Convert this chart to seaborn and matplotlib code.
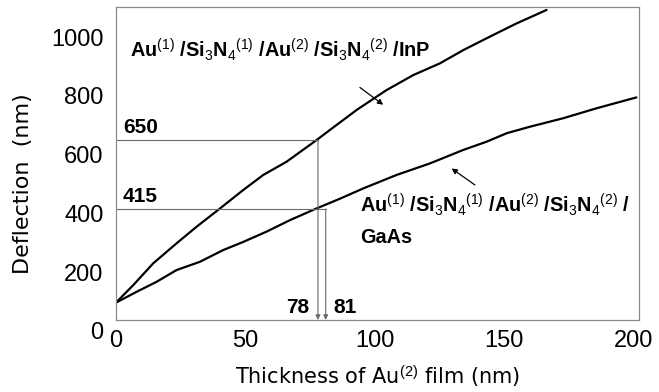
import matplotlib
matplotlib.use("Agg")
import matplotlib.pyplot as plt
import numpy as np
import pandas as pd
import seaborn as sns

# ---- data ----
thickness_inp = [0, 6.7, 14.4, 23.4, 31.2, 40.2, 49.2, 56.9, 65.9, 77.5, 82.6,
                 92.9, 104.5, 114.8, 125.1, 134.1, 144.4, 154.7, 166.3]
deflection_inp = [96, 156, 230, 298, 355, 417, 480, 531, 576, 650, 684,
                  752, 820, 871, 911, 956, 1002, 1047, 1093]

thickness_gaas = [0, 8.0, 15.7, 23.4, 32.4, 41.4, 49.2, 58.2, 67.2, 77.5, 86.5,
                  95.5, 108.4, 121.2, 134.1, 143.1, 150.9, 159.8, 172.7, 185.6, 201]
deflection_gaas = [96, 133, 167, 207, 235, 275, 303, 338, 377, 417, 450,
                   485, 531, 570, 616, 644, 673, 695, 724, 758, 795]

marker_thickness = [78, 81]
marker_deflection = [650, 415]
marker_labels = ["78", "81"]
deflection_labels = ["650", "415"]

x_ticks = [0, 50, 100, 150, 200]
y_ticks = [0, 200, 400, 600, 800, 1000]

df = pd.concat([
    pd.DataFrame({"t": thickness_inp, "d": deflection_inp, "s": "InP"}),
    pd.DataFrame({"t": thickness_gaas, "d": deflection_gaas, "s": "GaAs"}),
])

sns.set_style("white")
plt.rcParams["font.family"] = ["Liberation Sans", "DejaVu Sans"]
plt.rcParams["mathtext.fontset"] = "custom"
plt.rcParams["mathtext.rm"] = "Liberation Sans"
plt.rcParams["mathtext.it"] = "Liberation Sans:italic"
plt.rcParams["mathtext.bf"] = "Liberation Sans:bold"
for key in ["text.color", "axes.labelcolor", "xtick.color", "ytick.color"]:
    plt.rcParams[key] = "black"

W, H = 659, 392
fig = plt.figure(figsize=(W / 100, H / 100), dpi=100)
ax = fig.add_axes([116 / W, 1 - 330.8 / H, (639 - 116) / W, (330.8 - 7) / H])

sns.lineplot(data=df, x="t", y="d", units="s", estimator=None, color="black",
             lw=1.6, ax=ax, legend=False, sort=False)

floor = 37
ax.set_xlim(0, 202)
ax.set_ylim(0, 1103)
ax.spines["bottom"].set_position(("data", floor))
ax.spines["left"].set_bounds(floor, 1103)
ax.spines["right"].set_bounds(floor, 1103)
for sp in ax.spines.values():
    sp.set_color("#8a8a8a")
    sp.set_linewidth(0.9)

ax.set_xticks(x_ticks)
ax.set_yticks(y_ticks)
ax.tick_params(axis="both", length=0, labelsize=17, labelcolor="black")
ax.tick_params(axis="x", pad=7)
ax.tick_params(axis="y", pad=9)

ax.set_xlabel("Thickness of Au$^{(2)}$ film (nm)", labelpad=9,
              family=["DejaVu Sans"], fontsize=15, color="black")
ax.set_ylabel("Deflection  (nm)", fontsize=16, family=["DejaVu Sans"],
              color="black")
ax.yaxis.set_label_coords(-0.158, 0.456)

# guide lines
gcol = "#6a6a6a"
for xm, ym, lab_d in zip(marker_thickness, marker_deflection, deflection_labels):
    ax.plot([0, xm], [ym, ym], color=gcol, lw=0.8)
    ax.annotate("", xy=(xm, floor), xytext=(xm, ym),
                arrowprops=dict(arrowstyle="-|>", color=gcol, lw=0.8,
                                mutation_scale=7, shrinkA=0, shrinkB=0))
    ax.text(2.7, ym + 44, lab_d, fontsize=15, fontweight="bold",
            ha="left", va="center", color="black")

ax.text(74.5, 80, marker_labels[0], fontsize=15, fontweight="bold",
        ha="right", va="center", color="black")
ax.text(83.8, 80, marker_labels[1], fontsize=15, fontweight="bold",
        ha="left", va="center", color="black")

# series labels
lab = "Au$^{(1)}$ /Si$_3$N$_4$$^{(1)}$ /Au$^{(2)}$ /Si$_3$N$_4$$^{(2)}$ /"
ax.text(5.4, 956, lab + "InP", fontsize=14.3, fontweight="bold",
        ha="left", va="center", color="black")
ax.text(94.2, 428, lab, fontsize=14.3, fontweight="bold",
        ha="left", va="center", color="black")
ax.text(94.2, 319, "GaAs", fontsize=14.3, fontweight="bold",
        ha="left", va="center", color="black")

arrow_kw = dict(arrowstyle="-|>", color="black", lw=0.9, mutation_scale=8,
                shrinkA=0, shrinkB=0)
ax.annotate("", xy=(103.2, 770), xytext=(94.2, 829), arrowprops=arrow_kw)
ax.annotate("", xy=(129.6, 553), xytext=(138.6, 497), arrowprops=arrow_kw)

fig.savefig("out.png", dpi=100)
